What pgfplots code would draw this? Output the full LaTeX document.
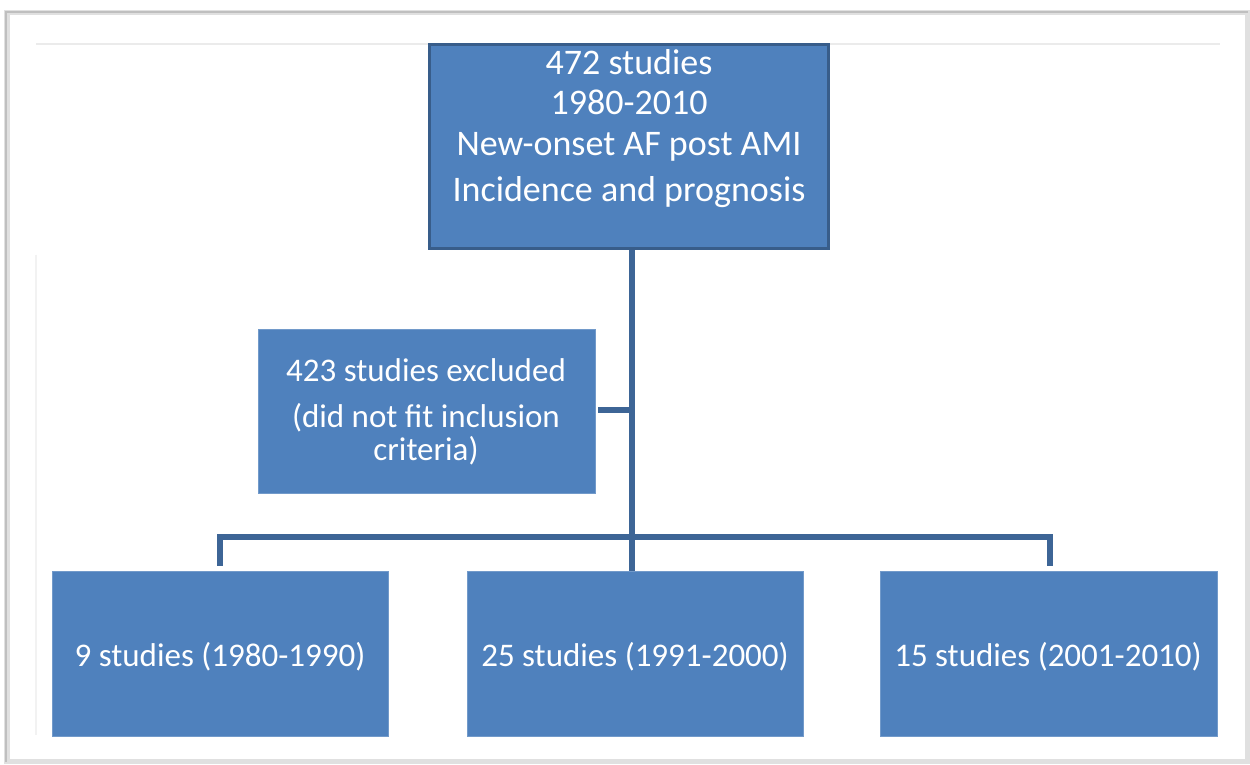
\documentclass[border=0pt]{standalone}
\usepackage{pgfplots}
\pgfplotsset{compat=1.18}
\usepackage{fontspec}
\setmainfont{Carlito}
\definecolor{boxfill}{HTML}{4F81BD}
\definecolor{boxedge}{HTML}{385D8A}
\definecolor{conn}{HTML}{3D6596}
\begin{document}
\begin{tikzpicture}
\begin{axis}[
  width=625pt, height=382pt, scale only axis,
  xmin=0, xmax=1250, ymin=0, ymax=764, y dir=reverse,
  axis lines=none, clip=false,
]
% background
\addplot[draw=none, fill=white] coordinates {(0,0) (1250,0) (1250,764) (0,764)} --cycle;
% outer frame with shadow
\addplot[draw=black!12, line width=2.5pt] coordinates {(7,13) (1247,13) (1247,762) (7,762)} --cycle;
\addplot[draw=black!25, line width=0.8pt] coordinates {(6,762) (6,12) (1248,12)};
% inner faint lines
\addplot[draw=black!8, line width=1pt] coordinates {(36,44) (1220,44)};
\addplot[draw=black!5, line width=0.6pt] coordinates {(36,255) (36,735)};
% connectors
\addplot[draw=conn, line width=2.6pt] coordinates {(632,250) (632,572)};
\addplot[draw=conn, line width=2.6pt] coordinates {(598,410) (632,410)};
\addplot[draw=conn, line width=2.6pt] coordinates {(220,566) (220,537) (1050,537) (1050,566)};
% top box
\addplot[draw=boxedge, line width=1.5pt, fill=boxfill] coordinates {(429,45) (828,45) (828,249) (429,249)} --cycle;
% excluded box
\addplot[draw=boxfill!80!white, line width=0.5pt, fill=boxfill] coordinates {(258,330) (595,330) (595,494) (258,494)} --cycle;
% bottom boxes
\addplot[draw=boxfill!80!white, line width=0.5pt, fill=boxfill] coordinates {(52,572) (388,572) (388,737) (52,737)} --cycle;
\addplot[draw=boxfill!80!white, line width=0.5pt, fill=boxfill] coordinates {(467,572) (803,572) (803,737) (467,737)} --cycle;
\addplot[draw=boxfill!80!white, line width=0.5pt, fill=boxfill] coordinates {(880,572) (1217,572) (1217,737) (880,737)} --cycle;
% texts
\begin{scope}[every node/.style={text=white, font=\fontsize{18}{21}\selectfont, inner sep=0pt}]
\node at (axis cs:629,62) {472 studies};
\node at (axis cs:629,102) {1980-2010};
\node at (axis cs:629,147) {New-onset AF post AMI};
\node at (axis cs:629,192) {Incidence and prognosis};
\end{scope}
\begin{scope}[every node/.style={text=white, font=\fontsize{16.5}{19}\selectfont, inner sep=0pt}]
\node at (axis cs:426,370) {423 studies excluded};
\node at (axis cs:426,418) {(did not fit inclusion};
\node at (axis cs:426,451) {criteria)};
\node at (axis cs:220,657) {9 studies (1980-1990)};
\node at (axis cs:635,657) {25 studies (1991-2000)};
\node at (axis cs:1048,657) {15 studies (2001-2010)};
\end{scope}
\end{axis}
\end{tikzpicture}
\end{document}
